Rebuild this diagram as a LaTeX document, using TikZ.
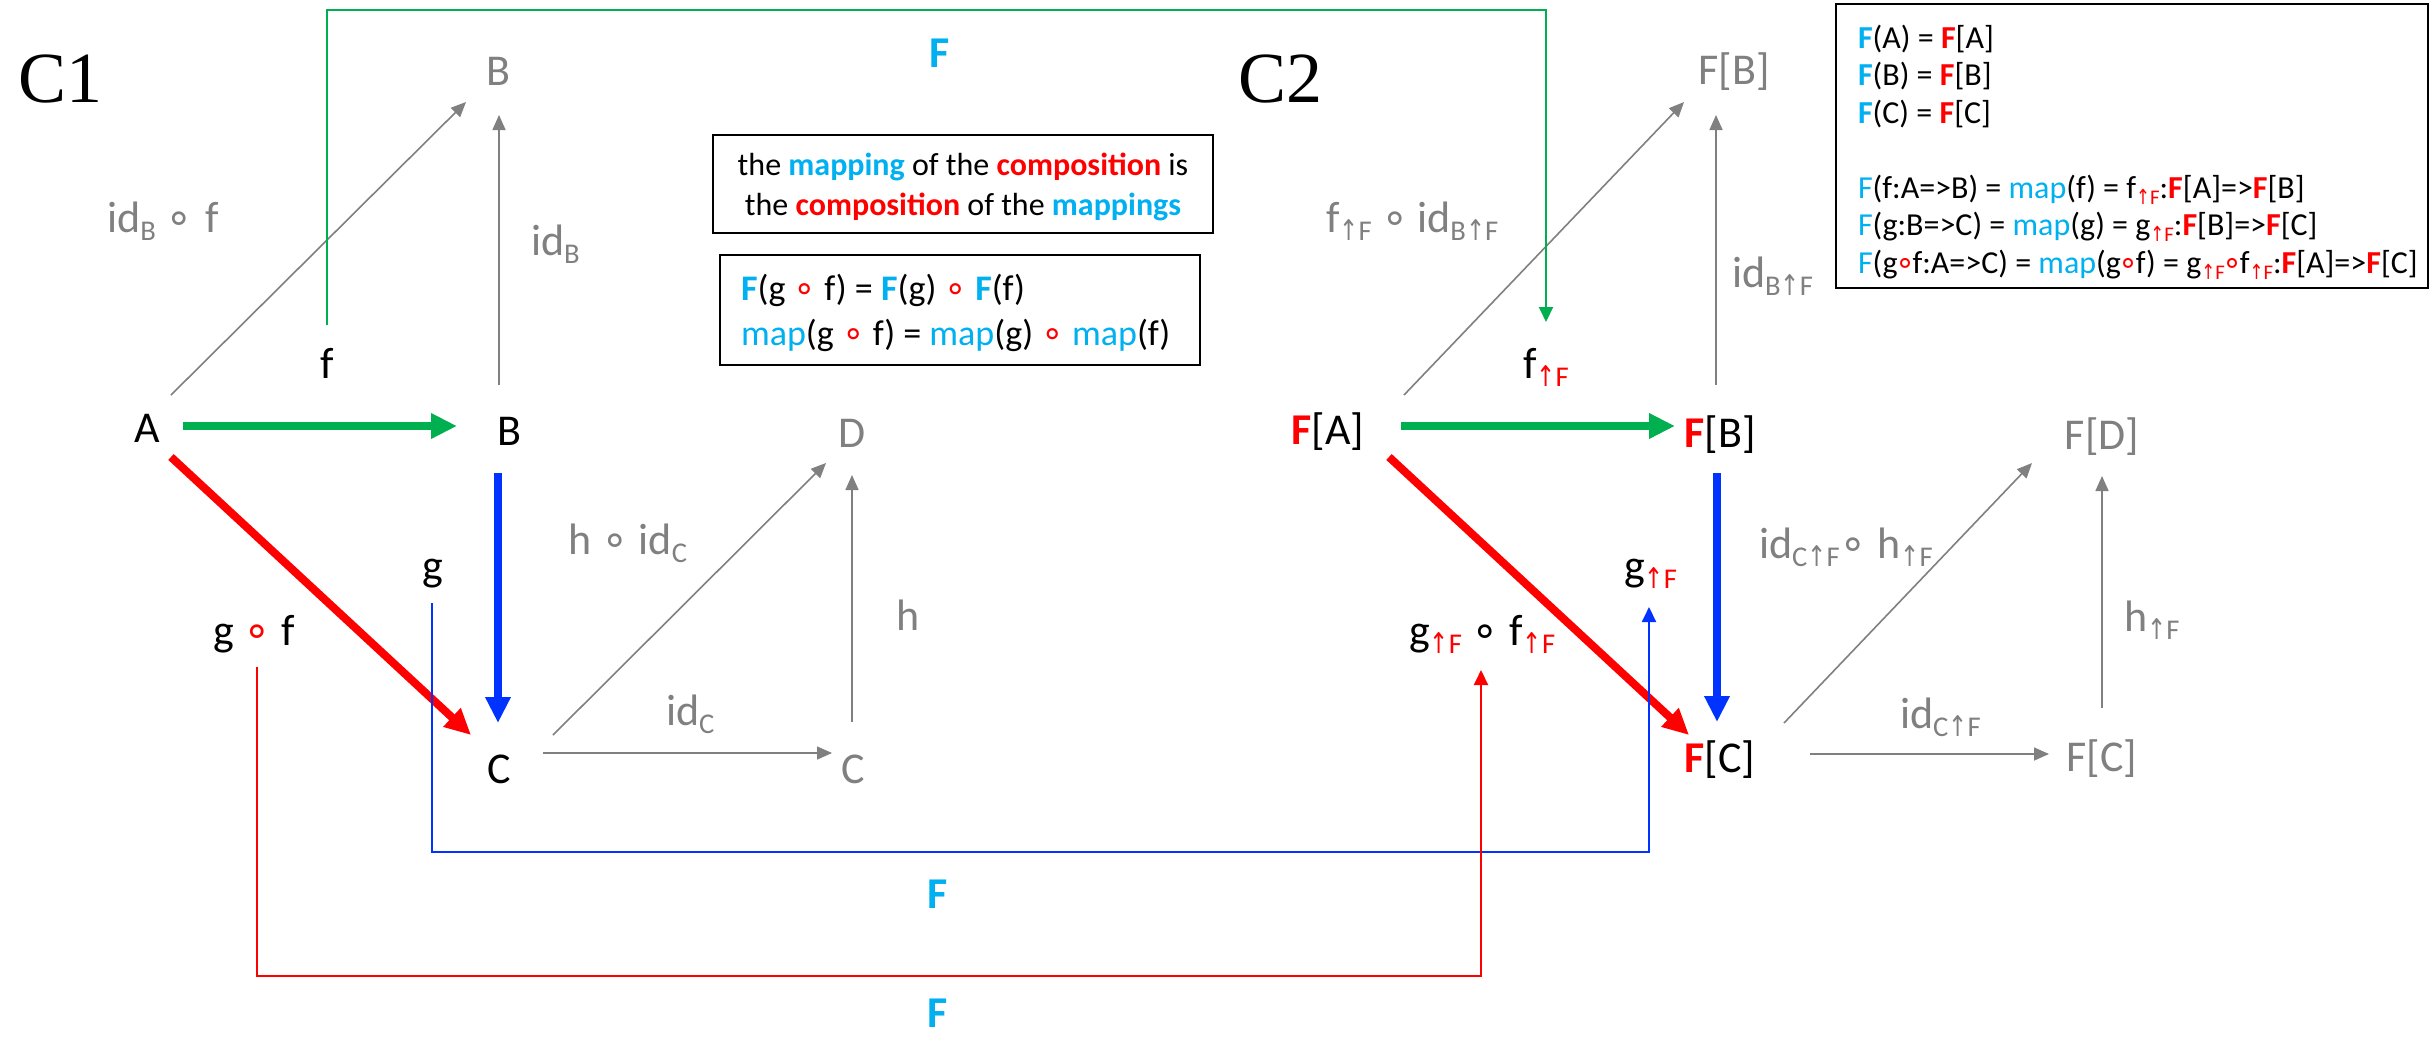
\documentclass[tikz,border=0pt]{standalone}
\usepackage{fontspec}
\usepackage{graphicx}
\setmainfont{Carlito}
\newfontfamily\timesf{Liberation Serif}
\newfontfamily\djv{DejaVu Sans}
\usetikzlibrary{arrows.meta}
\definecolor{cyanF}{HTML}{00B0F0}
\definecolor{redF}{HTML}{FF0000}
\definecolor{grnF}{HTML}{00B050}
\definecolor{bluF}{HTML}{0033FF}
\definecolor{gryF}{HTML}{808080}
\newcommand{\dn}[1]{\raisebox{-0.2em}{\scalebox{0.65}{#1}}}
\newcommand{\rg}{{\djv ∘}}
\newcommand{\rgt}{\kern-0.08em{\djv ∘}\kern-0.08em}
\newcommand{\ua}{{\djv\scalebox{0.8}[1]{↑}}}
\newcommand{\rF}{\textcolor{redF}{\bfseries F}}
\newcommand{\cF}{\textcolor{cyanF}{\bfseries F}}
\newcommand{\upr}{\color{redF}\ua F}
\begin{document}
\begin{tikzpicture}[x=1pt,y=-1pt,
  every node/.style={inner sep=0pt, outer sep=0pt},
  big/.style={font=\fontsize{44}{53}\selectfont, anchor=base},
  gbig/.style={big, text=gryF},
  lbl/.style={font=\fontsize{44}{53}\selectfont, anchor=base west},
  glbl/.style={lbl, text=gryF},
  ttl/.style={font=\timesf\fontsize{72}{80}\selectfont, anchor=base west},
  Fmap/.style={font=\fontsize{44}{53}\selectfont\bfseries, text=cyanF, anchor=base},
  boxst/.style={draw=black, line width=2.5pt},
  boxtxt/.style={font=\fontsize{32}{38}\selectfont, anchor=base},
  boxtxtl/.style={font=\fontsize{32}{38}\selectfont, anchor=base west},
  eqtxt/.style={font=\fontsize{36}{42}\selectfont, anchor=base west},
  thickarr/.style={line width=8pt, -{Triangle[length=26pt,width=24pt]}},
  thinarr/.style={draw=gryF, line width=1.6pt, -{Triangle[length=15pt,width=13pt]}},
  conn/.style={line width=2pt, -{Triangle[length=15pt,width=14pt]}},
]
\fill[white] (0,0) rectangle (2433,1037);
\useasboundingbox (0,0) rectangle (2433,1037);

% titles
\node[ttl] (c1) at (18,102) {C1};
\node[ttl] (c2) at (1238,102) {C2};

% C1 objects
\node[big] (A) at (147,442) {A};
\node[big] (B) at (509,445) {B};
\node[gbig] (Bt) at (498,85) {B};
\node[big] (C) at (499,783) {C};
\node[gbig] (Cg) at (853,783) {C};
\node[gbig] (D) at (852,447) {D};

% C2 objects
\node[big] (FA) at (1328,444) {\rF[A]};
\node[big] (FB) at (1720,447) {\rF[B]};
\node[gbig] (FBt) at (1734,84) {F[B]};
\node[big] (FC) at (1720,772) {\rF[C]};
\node[gbig] (FCg) at (2102,771) {F[C]};
\node[gbig] (FD) at (2102,449) {F[D]};

% C1 arrows
\draw[thickarr, grnF] ([shift={(36,-16)}]A.base) -- ([shift={(-52,-19)}]B.base);
\draw[thickarr, redF] ([shift={(24,15)}]A.base) -- ([shift={(-28,-48)}]C.base);
\draw[thickarr, bluF] ([shift={(-11,28)}]B.base) -- ([shift={(-1,-60)}]C.base);
\draw[thinarr] ([shift={(24,-47)}]A.base) -- ([shift={(-32,17)}]Bt.base);
\draw[thinarr] ([shift={(-10,-60)}]B.base) -- ([shift={(1,30)}]Bt.base);
\draw[thinarr] ([shift={(54,-48)}]C.base) -- ([shift={(-26,16)}]D.base);
\draw[thinarr] ([shift={(44,-30)}]C.base) -- ([shift={(-21,-30)}]Cg.base);
\draw[thinarr] ([shift={(-1,-61)}]Cg.base) -- ([shift={(0,28)}]D.base);

% C2 arrows
\draw[thickarr, grnF] ([shift={(73,-18)}]FA.base) -- ([shift={(-45,-21)}]FB.base);
\draw[thickarr, redF] ([shift={(61,13)}]FA.base) -- ([shift={(-31,-37)}]FC.base);
\draw[thickarr, bluF] ([shift={(-3,26)}]FB.base) -- ([shift={(-3,-50)}]FC.base);
\draw[thinarr] ([shift={(76,-49)}]FA.base) -- ([shift={(-50,18)}]FBt.base);
\draw[thinarr] ([shift={(-4,-62)}]FB.base) -- ([shift={(-18,31)}]FBt.base);
\draw[thinarr] ([shift={(64,-49)}]FC.base) -- ([shift={(-70,14)}]FD.base);
\draw[thinarr] ([shift={(90,-18)}]FC.base) -- ([shift={(-53,-17)}]FCg.base);
\draw[thinarr] ([shift={(0,-63)}]FCg.base) -- ([shift={(0,27)}]FD.base);

% C1 labels
\node[gbig] (lab1) at (163,232) {id\dn{B} \rg\hspace{12pt}f};
\node[glbl] (lab2) at (531,255) {id\dn{B}};
\node[big] (lf) at (327,378) {f};
\node[big] (lg) at (433,580) {g};
\node[big] (lgf) at (254,645) {g \textcolor{redF}{\rg} f};
\node[glbl] (lhid) at (568,554) {h \rg{} id\dn{C}};
\node[gbig] (lh) at (908,630) {h};
\node[glbl] (lidc) at (666,725) {id\dn{C}};

% C2 labels
\node[glbl] (rl1) at (1326,232) {f\dn{\ua F} \rg\hspace{8pt}id\dn{B\ua F}};
\node[glbl] (rl2) at (1732,287) {id\dn{B\ua F}};
\node[lbl] (rf) at (1523,378) {f\dn{\upr}};
\node[lbl] (rg) at (1624,580) {g\dn{\upr}};
\node[lbl] (rgf) at (1409,645) {g\dn{\upr} \rg{} f\dn{\upr}};
\node[glbl] (rl3) at (1759,558) {id\dn{C\ua F}\rg{} h\dn{\ua F}};
\node[glbl] (rl4) at (1900,728) {id\dn{C\ua F}};
\node[glbl] (rl5) at (2124,631) {h\dn{\ua F}};

% functor labels
\node[Fmap] (F1) at (940,67) {F};
\node[Fmap] (F2) at (938,908) {F};
\node[Fmap] (F3) at (938,1027) {F};

% functor connectors
\draw[conn, grnF] ([shift={(0,-53)}]lf.base) -- ++(0,-315) -| ([shift={(23,-56)}]rf.base west);
\draw[conn, bluF] ([shift={(-1,23)}]lg.base) -- ++(0,249) -| ([shift={(25,27)}]rg.base west);
\draw[conn, redF] ([shift={(3,22)}]lgf.base) -- ++(0,309) -| ([shift={(72,25)}]rgf.base west);

% box 1
\node[boxst, minimum width=500pt, minimum height=98pt] (box1) at (963,184) {};
\node[boxtxt] (b1a) at (963,175) {the \textcolor{cyanF}{\bfseries mapping} of the \textcolor{redF}{\bfseries composition} is};
\node[boxtxt] (b1b) at (963,215) {the \textcolor{redF}{\bfseries composition} of the \textcolor{cyanF}{\bfseries mappings}};

% box 2
\node[boxst, minimum width=480pt, minimum height=110pt] (box2) at (960,310) {};
\node[eqtxt] (b2a) at (741,300) {\cF(g \textcolor{redF}{\rg} f) = \cF(g) \textcolor{redF}{\rg} \cF(f)};
\node[eqtxt] (b2b) at (741,345) {\textcolor{cyanF}{map}(g \textcolor{redF}{\rg} f) = \textcolor{cyanF}{map}(g) \textcolor{redF}{\rg} \textcolor{cyanF}{map}(f)};

% box 3
\node[boxst, minimum width=592pt, minimum height=284pt] (box3) at (2132,146) {};
\node[boxtxtl] (r1) at (1858,48) {\cF(A) = \rF[A]};
\node[boxtxtl] (r2) at (1858,85.5) {\cF(B) = \rF[B]};
\node[boxtxtl] (r3) at (1858,123) {\cF(C) = \rF[C]};
\node[boxtxtl] (r4) at (1858,198) {\textcolor{cyanF}{F}(f:A=>B) = \textcolor{cyanF}{map}(f) = f\dn{\upr}:\rF[A]=>\rF[B]};
\node[boxtxtl] (r5) at (1858,235.5) {\textcolor{cyanF}{F}(g:B=>C) = \textcolor{cyanF}{map}(g) = g\dn{\upr}:\rF[B]=>\rF[C]};
\node[boxtxtl] (r6) at (1858,273) {\textcolor{cyanF}{F}(g\textcolor{redF}{\rgt}f:A=>C) = \textcolor{cyanF}{map}(g\textcolor{redF}{\rgt}f) = g\dn{\upr}\textcolor{redF}{\rgt}f\dn{\upr}:\rF[A]=>\rF[C]};
\end{tikzpicture}
\end{document}
